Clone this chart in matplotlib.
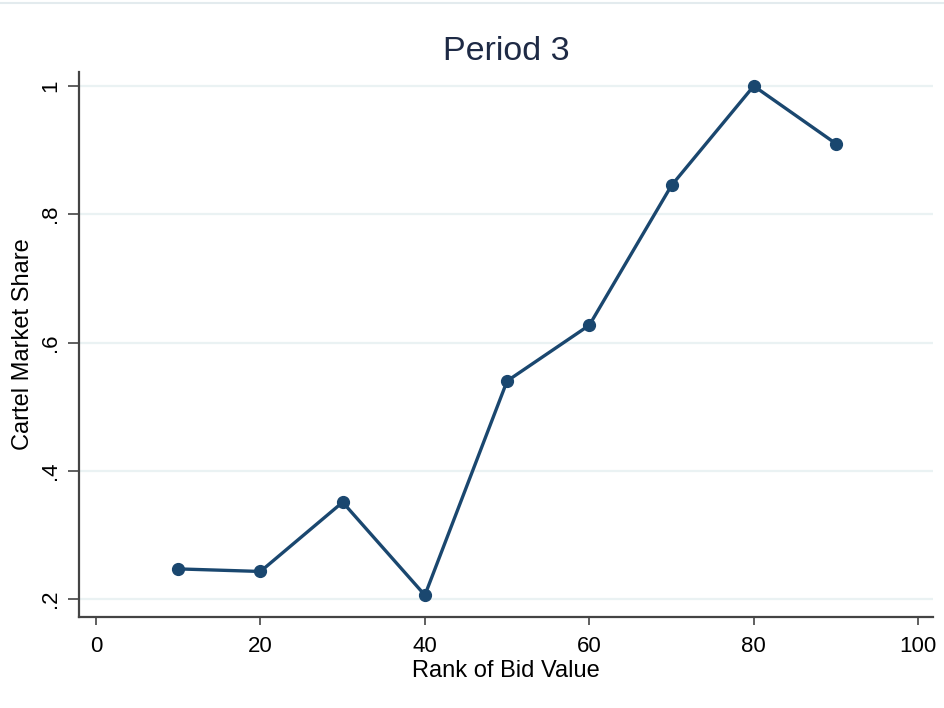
"""Period 3: cartel market share by rank of bid value (Stata-style line plot)."""

import matplotlib

matplotlib.use("Agg")
import matplotlib.pyplot as plt
from matplotlib.lines import Line2D

plt.rcParams["font.family"] = ["Liberation Sans", "DejaVu Sans"]

# data
rank = [10, 20, 30, 40, 50, 60, 70, 80, 90]
share = [0.247, 0.243, 0.351, 0.206, 0.540, 0.627, 0.845, 1.000, 0.910]

x_ticks = [0, 20, 40, 60, 80, 100]
y_ticks = [0.2, 0.4, 0.6, 0.8, 1.0]
y_tick_labels = [".2", ".4", ".6", ".8", "1"]

NAVY = "#1a476f"
GRID = "#eaf2f3"
AXIS = "#444444"

fig = plt.figure(figsize=(9.44, 7.08), dpi=100)
ax = fig.add_axes([79 / 944, 1 - 617 / 708, 854 / 944, 545 / 708])

ax.plot(rank, share, color=NAVY, lw=2.4, marker="o", ms=8.5,
        markerfacecolor=NAVY, markeredgecolor=NAVY, clip_on=False, zorder=3)

ax.set_xlim(-2.07, 101.8)
ax.set_ylim(0.172, 1.0218)
ax.set_xticks(x_ticks)
ax.set_yticks(y_ticks)
ax.set_yticklabels(y_tick_labels, rotation=90, va="center")

ax.grid(axis="y", color=GRID, lw=1.6)
ax.set_axisbelow(True)

for side in ("top", "right"):
    ax.spines[side].set_visible(False)
for side in ("left", "bottom"):
    ax.spines[side].set_color(AXIS)
    ax.spines[side].set_linewidth(1.6)

ax.tick_params(axis="x", length=6, width=1.2, color=AXIS, pad=8, labelsize=16)
ax.tick_params(axis="y", length=8, width=1.2, color=AXIS, pad=5, labelsize=16)

ax.set_xlabel("Rank of Bid Value", fontsize=17, labelpad=2)
ax.set_ylabel("Cartel Market Share", fontsize=17, labelpad=4)
ax.set_title("Period 3", fontsize=24.5, color="#1e2a45", pad=9)

# faint border line at the very top of the graph region
fig.add_artist(Line2D([0, 1], [1 - 3 / 708, 1 - 3 / 708], color="#e3ebee",
                      lw=1.5, transform=fig.transFigure))

fig.savefig("out.png", dpi=100)
